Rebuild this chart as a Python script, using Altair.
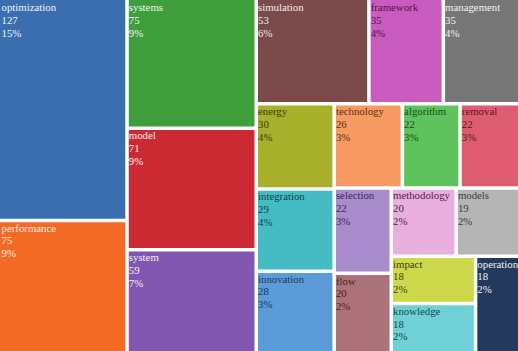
import altair as alt
import pandas as pd

W, H = 518, 351

terms = ["optimization", "performance", "systems", "model", "system", "simulation",
         "framework", "management", "energy", "integration", "innovation", "technology",
         "algorithm", "removal", "selection", "flow", "methodology", "models",
         "impact", "knowledge", "operation"]
counts = [127, 75, 75, 71, 59, 53, 35, 35, 30, 29, 28, 26, 22, 22, 22, 20, 20, 19, 18, 18, 18]
percents = ["15%", "9%", "9%", "9%", "7%", "6%", "4%", "4%", "4%", "4%", "3%", "3%",
            "3%", "3%", "3%", "2%", "2%", "2%", "2%", "2%", "2%"]

fill_colors = ["#3a6eae", "#f26a24", "#3f9e3c", "#cb2a33", "#8156b0", "#7b4a4a",
               "#c85bbd", "#767676", "#a7b02b", "#45bcc4", "#5b9bd7", "#f79a62",
               "#5ec35c", "#dd5c6f", "#a98ccc", "#ab7379", "#e8afde", "#b5b5b5",
               "#cdd84a", "#6fd0d5", "#243a5d"]
text_colors = ["#eef2f8", "#fdf0e6", "#eef7ee", "#fbecec", "#f2eef8", "#f2eaea",
               "#4d1649", "#f2f2f2", "#383d0c", "#0f4649", "#183a5e", "#5a3118",
               "#1a4d1a", "#5a1422", "#3a2a55", "#4a1c22", "#4d2548", "#3d3d3d",
               "#3d420c", "#0f4a4d", "#eef0f5"]


def worst(row, side):
    s = sum(row)
    return max(max(side * side * r / (s * s), s * s / (side * side * r)) for r in row)


def squarify(values, x, y, dx, dy):
    total = sum(values)
    vals = [v * dx * dy / total for v in values]
    rects = []
    while vals:
        side = min(dx, dy)
        row = [vals[0]]
        i = 1
        while i < len(vals) and worst(row + [vals[i]], side) <= worst(row, side):
            row.append(vals[i])
            i += 1
        s = sum(row)
        if dx >= dy:
            cw = s / dy
            yy = y
            for r in row:
                h = r / cw
                rects.append((x, yy, x + cw, yy + h))
                yy += h
            x += cw
            dx -= cw
        else:
            rh = s / dx
            xx = x
            for r in row:
                w = r / rh
                rects.append((xx, y, xx + w, y + rh))
                xx += w
            y += rh
            dy -= rh
        vals = vals[i:]
    return rects


rects = squarify(counts, 0, 0, W, H)
rows = []
for t, c, p, (x0, y0, x1, y1) in zip(terms, counts, percents, rects):
    gx0 = x0 + (1.5 if x0 > 0.5 else 0)
    gy0 = y0 + (1.5 if y0 > 0.5 else 0)
    gx1 = x1 - (2.0 if x1 < W - 0.5 else 0)
    gy1 = y1 - (2.0 if y1 < H - 0.5 else 0)
    rows.append(dict(term=t, count=c, label=f"{t}\n{c}\n{p}",
                     x0=gx0, y0=gy0, x1=gx1, y1=gy1, tx=x0, ty=y0))
df = pd.DataFrame(rows)

xs = alt.Scale(domain=[0, W], nice=False, zero=False)
ys = alt.Scale(domain=[0, H], nice=False, zero=False, reverse=True)

base = alt.Chart(df)

boxes = base.mark_rect(strokeWidth=0).encode(
    x=alt.X("x0:Q", scale=xs, axis=None),
    x2="x1:Q",
    y=alt.Y("y0:Q", scale=ys, axis=None),
    y2="y1:Q",
    color=alt.Color("term:N", scale=alt.Scale(domain=terms, range=fill_colors), legend=None),
)

labels = base.mark_text(
    align="left", baseline="alphabetic", dx=1.5, dy=11, lineBreak="\n",
    font="'Liberation Serif', 'Times New Roman', serif", fontSize=10.8, lineHeight=12.8,
).encode(
    x=alt.X("tx:Q", scale=xs, axis=None),
    y=alt.Y("ty:Q", scale=ys, axis=None),
    text="label:N",
    color=alt.Color("term:N", scale=alt.Scale(domain=terms, range=text_colors), legend=None),
)

chart = alt.layer(boxes, labels).resolve_scale(color="independent").properties(
    width=W, height=H, padding=0, autosize=alt.AutoSizeParams(type="none"),
    background="white",
).configure_view(stroke=None)

chart.save("out.html", embed_options={"renderer": "svg", "actions": False})
